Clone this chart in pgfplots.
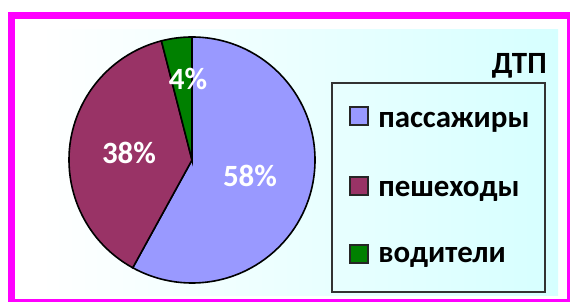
\documentclass[border=0pt]{standalone}
\usepackage{pgfplots}
\usepackage{pgfplotstable}
\pgfplotsset{compat=1.18}
\usepackage{fontspec}
\setmainfont{Carlito}
\definecolor{lav}{HTML}{9999FF}
\definecolor{plum}{HTML}{993366}
\definecolor{grn}{HTML}{008000}
\definecolor{mag}{HTML}{FF00FF}
\definecolor{cyanbg}{HTML}{D6FFFF}
\pgfplotstableread{
name value
passengers 58
pedestrians 38
drivers 4
}\piedata
\begin{document}
\begin{tikzpicture}
\pgfplotstablegetelem{0}{value}\of\piedata \edef\va{\pgfplotsretval}
\pgfplotstablegetelem{1}{value}\of\piedata \edef\vb{\pgfplotsretval}
\pgfplotstablegetelem{2}{value}\of\piedata \edef\vc{\pgfplotsretval}
\pgfmathsetmacro\aA{90}
\pgfmathsetmacro\aB{90-3.6*\va}
\pgfmathsetmacro\aC{\aB-3.6*\vb}
\pgfmathsetmacro\aD{\aC-3.6*\vc}
\begin{axis}[scale only axis, width=143mm, height=76mm,
  xmin=0, xmax=572, ymin=0, ymax=304, hide axis, clip=false,
  font=\bfseries\fontsize{22}{24}\selectfont]
\path (axis cs:0,0) rectangle (axis cs:572,304);
% frame
\fill[mag] (axis cs:8,292) rectangle (axis cs:570,2);
\fill[white] (axis cs:15,285) rectangle (axis cs:567,5);
\shade[left color=white, right color=cyanbg] (axis cs:40,274) rectangle (axis cs:558,8);
% pie slices
\def\R{30.75mm}
\filldraw[fill=lav, draw=black, line width=0.4mm] (axis cs:192,144) -- ++(\aA:\R) arc[start angle=\aA, end angle=\aB, radius=\R] -- cycle;
\filldraw[fill=plum, draw=black, line width=0.4mm] (axis cs:192,144) -- ++(\aB:\R) arc[start angle=\aB, end angle=\aC, radius=\R] -- cycle;
\filldraw[fill=grn, draw=black, line width=0.4mm] (axis cs:192,144) -- ++(\aC:\R) arc[start angle=\aC, end angle=\aD, radius=\R] -- cycle;
\node[white] at (axis cs:250,128) {58\%};
\node[white] at (axis cs:129,151) {38\%};
\node[white] at (axis cs:188,225) {4\%};
% legend
\draw[black!80, line width=0.5mm] (axis cs:332,221) rectangle (axis cs:545,12);
\node[anchor=north east, inner sep=0pt] at (axis cs:547,251) {ДТП};
\filldraw[fill=lav, draw=black!85, line width=0.45mm] (axis cs:350,197) rectangle (axis cs:368,179);
\filldraw[fill=plum, draw=black!85, line width=0.45mm] (axis cs:350,127) rectangle (axis cs:368,109);
\filldraw[fill=grn, draw=black!85, line width=0.45mm] (axis cs:350,59) rectangle (axis cs:368,41);
\node[anchor=base west, inner sep=0pt] at (axis cs:378,176) {пассажиры};
\node[anchor=base west, inner sep=0pt] at (axis cs:378,107) {пешеходы};
\node[anchor=base west, inner sep=0pt] at (axis cs:378,41) {водители};
\end{axis}
\end{tikzpicture}
\end{document}
